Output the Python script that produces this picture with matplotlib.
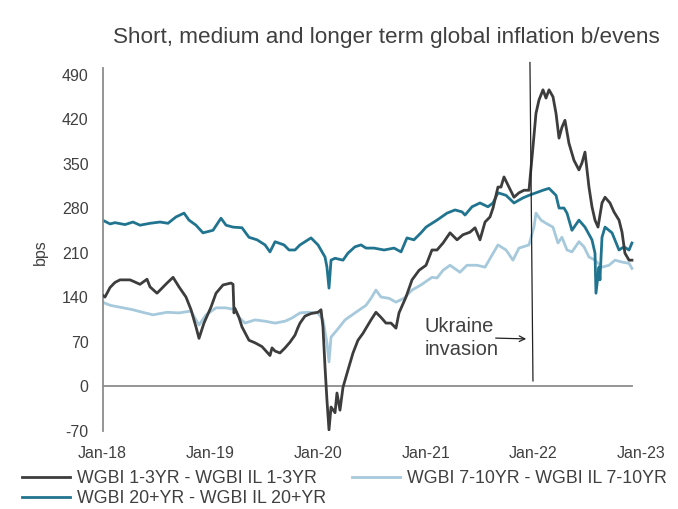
import matplotlib
matplotlib.use("Agg")
import matplotlib.pyplot as plt

plt.rcParams['font.family'] = ['Liberation Sans', 'DejaVu Sans']

# ---- data (time in decimal years, values in bps) ----
t_13 = [2018.00, 2018.023, 2018.070, 2018.116, 2018.162, 2018.255, 2018.283, 2018.348, 2018.413,
        2018.441, 2018.506, 2018.599, 2018.655, 2018.710, 2018.775, 2018.822, 2018.868, 2018.896,
        2018.942, 2019.007, 2019.054, 2019.119, 2019.193, 2019.212, 2019.221, 2019.230, 2019.267,
        2019.295, 2019.323, 2019.360, 2019.416, 2019.481, 2019.555, 2019.574, 2019.602, 2019.648,
        2019.695, 2019.741, 2019.787, 2019.815, 2019.834, 2019.880, 2019.936, 2020.001, 2020.029,
        2020.047, 2020.066, 2020.084, 2020.103, 2020.122, 2020.159, 2020.177, 2020.205, 2020.233,
        2020.279, 2020.326, 2020.372, 2020.419, 2020.447, 2020.493, 2020.539, 2020.586, 2020.632,
        2020.679, 2020.725, 2020.753, 2020.818, 2020.874, 2020.939, 2021.004, 2021.059, 2021.106,
        2021.162, 2021.227, 2021.292, 2021.347, 2021.412, 2021.459, 2021.505, 2021.552, 2021.598,
        2021.626, 2021.672, 2021.700, 2021.728, 2021.774, 2021.821, 2021.867, 2021.914, 2021.960,
        2021.997, 2022.025, 2022.053, 2022.090, 2022.118, 2022.146, 2022.183, 2022.211, 2022.239,
        2022.266, 2022.294, 2022.331, 2022.378, 2022.424, 2022.452, 2022.480, 2022.517, 2022.545,
        2022.573, 2022.601, 2022.638, 2022.666, 2022.712, 2022.749, 2022.796, 2022.824, 2022.851,
        2022.889, 2022.916]
v_13 = [143, 140, 155, 163, 167, 167, 165, 160, 168,
        156, 146, 162, 171, 156, 140, 120, 93, 75,
        99, 124, 146, 159, 162, 160, 115, 122, 108,
        93, 84, 72, 68, 62, 48, 60, 55, 52,
        60, 69, 80, 92, 99, 110, 114, 116, 120,
        93, 30, -22, -69, -33, -42, -11, -38, -2,
        25, 52, 72, 83, 91, 104, 116, 108, 99,
        99, 91, 115, 140, 167, 182, 190, 214, 214,
        225, 241, 230, 238, 242, 249, 230, 258, 266,
        280, 313, 313, 329, 313, 297, 304, 308, 308,
        376, 429, 450, 466, 453, 466, 455, 429, 390,
        407, 418, 382, 355, 340, 351, 368, 313, 282,
        261, 250, 288, 297, 288, 274, 261, 242, 209,
        198, 198]

t_20 = [2018.00, 2018.070, 2018.116, 2018.209, 2018.283, 2018.348, 2018.441, 2018.534, 2018.608,
        2018.682, 2018.757, 2018.803, 2018.868, 2018.933, 2019.026, 2019.100, 2019.147, 2019.212,
        2019.295, 2019.360, 2019.435, 2019.509, 2019.555, 2019.602, 2019.685, 2019.732, 2019.787,
        2019.834, 2019.936, 2020.001, 2020.066, 2020.084, 2020.103, 2020.122, 2020.159, 2020.233,
        2020.279, 2020.344, 2020.400, 2020.447, 2020.521, 2020.614, 2020.707, 2020.772, 2020.827,
        2020.892, 2020.957, 2021.004, 2021.059, 2021.106, 2021.199, 2021.273, 2021.338, 2021.366,
        2021.431, 2021.505, 2021.579, 2021.626, 2021.672, 2021.747, 2021.821, 2021.904, 2021.960,
        2022.025, 2022.090, 2022.146, 2022.211, 2022.239, 2022.285, 2022.313, 2022.359, 2022.424,
        2022.480, 2022.545, 2022.573, 2022.582, 2022.610, 2022.619, 2022.638, 2022.666, 2022.731,
        2022.796, 2022.842, 2022.889, 2022.916]
v_20 = [261, 255, 257, 254, 258, 253, 256, 258, 256,
        266, 272, 261, 253, 241, 245, 264, 253, 250,
        249, 234, 230, 222, 211, 227, 222, 214, 214,
        222, 233, 222, 203, 187, 154, 198, 201, 198,
        209, 219, 222, 217, 217, 214, 217, 211, 233,
        230, 241, 250, 256, 261, 272, 277, 274, 269,
        282, 288, 282, 288, 304, 300, 288, 296, 300,
        304, 308, 311, 300, 280, 280, 272, 245, 261,
        250, 230, 209, 146, 187, 167, 234, 250, 241,
        214, 219, 214, 225]

t_710 = [2018.00, 2018.070, 2018.162, 2018.283, 2018.348, 2018.469, 2018.599, 2018.710, 2018.822,
         2018.868, 2018.896, 2018.961, 2019.054, 2019.147, 2019.230, 2019.267, 2019.323, 2019.416,
         2019.509, 2019.602, 2019.695, 2019.759, 2019.834, 2019.908, 2020.001, 2020.047, 2020.084,
         2020.103, 2020.122, 2020.177, 2020.252, 2020.344, 2020.447, 2020.493, 2020.539, 2020.586,
         2020.660, 2020.725, 2020.799, 2020.874, 2020.957, 2021.059, 2021.106, 2021.162, 2021.227,
         2021.319, 2021.384, 2021.477, 2021.552, 2021.617, 2021.672, 2021.747, 2021.811, 2021.867,
         2021.960, 2022.006, 2022.025, 2022.072, 2022.118, 2022.183, 2022.229, 2022.266, 2022.313,
         2022.359, 2022.424, 2022.471, 2022.517, 2022.573, 2022.638, 2022.703, 2022.759, 2022.824,
         2022.889, 2022.916]
v_710 = [132, 127, 124, 120, 117, 112, 116, 115, 118,
         104, 96, 112, 123, 123, 120, 108, 99, 104,
         102, 99, 102, 107, 115, 116, 115, 104, 68,
         38, 77, 88, 104, 115, 127, 138, 151, 140,
         138, 132, 138, 151, 159, 171, 170, 182, 190,
         179, 190, 190, 187, 206, 222, 214, 198, 217,
         222, 250, 272, 261, 256, 250, 225, 234, 214,
         211, 227, 219, 203, 198, 187, 190, 198, 195,
         193, 185]

labels = ['WGBI 1-3YR - WGBI IL 1-3YR', 'WGBI 7-10YR - WGBI IL 7-10YR', 'WGBI 20+YR - WGBI IL 20+YR']
colors = ['#3d3d3d', '#a6c9dc', '#21748f']
x_ticks = [2018, 2019, 2020, 2021, 2022, 2023]
x_ticklabels = ['Jan-18', 'Jan-19', 'Jan-20', 'Jan-21', 'Jan-22', 'Jan-23']
y_ticks = [-70, 0, 70, 140, 210, 280, 350, 420, 490]

# ---- figure ----
fig = plt.figure(figsize=(6.78, 5.09), dpi=100)
ax = fig.add_axes([0.1512, 0.1542, 0.7942, 0.7118])

l13, = ax.plot(t_13, v_13, color=colors[0], lw=2.0, solid_joinstyle='round', zorder=3)
l710, = ax.plot(t_710, v_710, color=colors[1], lw=2.0, solid_joinstyle='round', zorder=2)
l20, = ax.plot(t_20, v_20, color=colors[2], lw=2.0, solid_joinstyle='round', zorder=2)

ax.set_xlim(2018, 2023)
ax.set_ylim(-70, 500)
ax.set_xticks(x_ticks)
ax.set_xticklabels(x_ticklabels)
ax.set_yticks(y_ticks)
ax.set_yticklabels([str(v) for v in y_ticks])
ax.tick_params(length=0, labelsize=11.5, colors='#404040')
ax.tick_params(axis='x', pad=11)
ax.tick_params(axis='y', pad=10)

for s in ['top', 'right', 'bottom']:
    ax.spines[s].set_visible(False)
ax.spines['left'].set_color('#8c8c8c')
ax.spines['left'].set_linewidth(1.3)
ax.plot([2018, t_13[-1]], [0, 0], color='#8c8c8c', lw=1.3, zorder=1)

# Ukraine invasion marker
ax.plot([2021.969, 2021.997], [509, 8], color='#222222', lw=0.9, clip_on=False, zorder=4)
ax.annotate('', xy=(2021.960, 74), xytext=(2021.625, 75.5),
            arrowprops=dict(arrowstyle='->', color='#222222', lw=0.9))
ax.text(2020.994, 75.5, 'Ukraine\ninvasion', ha='left', va='center', fontsize=14.5,
        color='#404040', linespacing=1.3)

fig.text(386 / 678, 1 - 38 / 509, 'Short, medium and longer term global inflation b/evens',
         ha='center', va='center', fontsize=16.2, color='#404040')
fig.text(40 / 678, 1 - 252 / 509, 'bps', rotation=90, ha='center', va='center',
         fontsize=11.5, color='#404040')

fig.legend([l13, l20, l710], [labels[0], labels[2], labels[1]], ncol=2, frameon=False,
           loc='upper left', bbox_to_anchor=(22 / 678, 1 - 470 / 509), fontsize=12.8,
           handlelength=2.7, handletextpad=0.39, columnspacing=1.45, labelspacing=0.16,
           labelcolor='#404040', borderaxespad=0, borderpad=0)

fig.savefig('out.png', dpi=100)
